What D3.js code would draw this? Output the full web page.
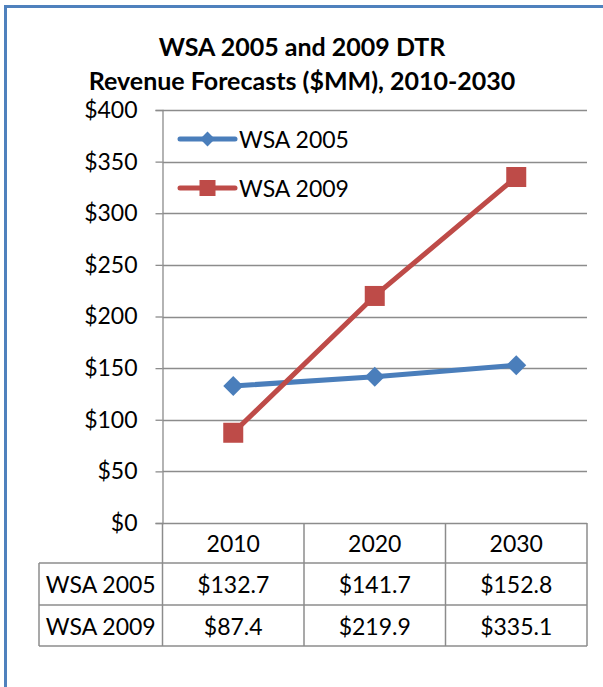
<!DOCTYPE html>
<html>
<head>
<meta charset="utf-8">
<script src="https://cdn.jsdelivr.net/npm/d3@7"></script>
<style>
  body { margin: 0; background: #fff; }
  text { font-family: Lato, "Open Sans", sans-serif; fill: #000; }
</style>
</head>
<body>
<div id="chart"></div>
<script>
const years = ["2010", "2020", "2030"];
const seriesNames = ["WSA 2005", "WSA 2009"];
const wsa2005 = [132.7, 141.7, 152.8];
const wsa2009 = [87.4, 219.9, 335.1];
const yTicks = [0, 50, 100, 150, 200, 250, 300, 350, 400];
const titleLines = ["WSA 2005 and 2009 DTR", "Revenue Forecasts ($MM), 2010-2030"];

const width = 603, height = 687;
const svg = d3.select("#chart").append("svg")
    .attr("width", width)
    .attr("height", height);

// outer frame (runs off the picture right and bottom)
svg.append("rect")
    .attr("x", 5.5).attr("y", 6.5)
    .attr("width", 700).attr("height", 800)
    .attr("fill", "#fff")
    .attr("stroke", "#4f81bd")
    .attr("stroke-width", 3);

const plotLeft = 162.5, plotRight = 587, plotTop = 110, plotBottom = 523;
const x = d3.scaleBand().domain(years).range([plotLeft, plotRight]);
const y = d3.scaleLinear().domain([0, 400]).range([plotBottom, plotTop]);
const cx = d => x(d) + x.bandwidth() / 2;

// title
svg.append("g").selectAll("text")
    .data(titleLines)
    .join("text")
    .attr("x", 302)
    .attr("y", (d, i) => 46 + i * 34)
    .attr("text-anchor", "middle")
    .attr("dominant-baseline", "central")
    .style("font-size", "25px")
    .style("font-weight", "bold")
    .text(d => d);

// grid
svg.append("g")
    .selectAll("line")
    .data(yTicks)
    .join("line")
    .attr("x1", plotLeft).attr("x2", plotRight)
    .attr("y1", d => Math.round(y(d)) + 0.5)
    .attr("y2", d => Math.round(y(d)) + 0.5)
    .attr("stroke", "#8c8c8c")
    .attr("stroke-width", 1.3);

// y axis
const yAxis = svg.append("g")
    .attr("transform", `translate(${plotLeft},0)`)
    .call(d3.axisLeft(y).tickValues(yTicks).tickFormat(d => "$" + d).tickSize(7).tickPadding(18));
yAxis.select(".domain").attr("stroke", "#8c8c8c").attr("stroke-width", 1.3);
yAxis.selectAll(".tick line").attr("stroke", "#8c8c8c").attr("stroke-width", 1.3);
yAxis.selectAll(".tick text")
    .style("font-size", "23px")
    .style("font-family", "Lato, sans-serif")
    .attr("fill", "#000");

// data table
const rowH = [40, 42, 41];
const rowTop = [plotBottom, plotBottom + 40, plotBottom + 82];
const tableBottom = plotBottom + 123;
const tableLeft = 39;
const tbl = svg.append("g")
    .attr("stroke", "#8c8c8c")
    .attr("stroke-width", 1.5)
    .attr("fill", "none");
[plotLeft, ...years.map(d => x(d) + x.bandwidth())].forEach(vx => {
    tbl.append("line").attr("x1", vx).attr("x2", vx).attr("y1", plotBottom).attr("y2", tableBottom);
});
tbl.append("line").attr("x1", tableLeft).attr("x2", tableLeft).attr("y1", rowTop[1]).attr("y2", tableBottom);
[rowTop[1], rowTop[2], tableBottom].forEach(hy => {
    tbl.append("line").attr("x1", tableLeft).attr("x2", plotRight).attr("y1", hy).attr("y2", hy);
});

svg.append("g").selectAll("text")
    .data(years)
    .join("text")
    .attr("x", cx)
    .attr("y", rowTop[0] + rowH[0] / 2)
    .attr("text-anchor", "middle")
    .attr("dominant-baseline", "central")
    .style("font-size", "23px")
    .text(d => d);

const tableRows = [wsa2005, wsa2009];
tableRows.forEach((vals, r) => {
    const ry = rowTop[r + 1] + rowH[r + 1] / 2;
    svg.append("text")
        .attr("x", (tableLeft + plotLeft) / 2)
        .attr("y", ry)
        .attr("text-anchor", "middle")
        .attr("dominant-baseline", "central")
        .style("font-size", "23px")
        .text(seriesNames[r]);
    svg.append("g").selectAll("text")
        .data(vals)
        .join("text")
        .attr("x", (d, i) => cx(years[i]))
        .attr("y", ry)
        .attr("text-anchor", "middle")
        .attr("dominant-baseline", "central")
        .style("font-size", "23px")
        .text(d => "$" + d.toFixed(1));
});

// lines
const blue = "#4a7ebb", red = "#be4b48";
const line = d3.line().x((d, i) => cx(years[i])).y(d => y(d));

svg.append("path").datum(wsa2005)
    .attr("d", line).attr("fill", "none")
    .attr("stroke", blue).attr("stroke-width", 5).attr("stroke-linejoin", "round");
svg.append("path").datum(wsa2009)
    .attr("d", line).attr("fill", "none")
    .attr("stroke", red).attr("stroke-width", 5).attr("stroke-linejoin", "round");

svg.append("g").selectAll("path")
    .data(wsa2005)
    .join("path")
    .attr("d", d3.symbol().type(d3.symbolSquare).size(200))
    .attr("transform", (d, i) => `translate(${cx(years[i])},${y(d)}) rotate(45)`)
    .attr("fill", blue);

svg.append("g").selectAll("rect")
    .data(wsa2009)
    .join("rect")
    .attr("x", (d, i) => cx(years[i]) - 10)
    .attr("y", d => y(d) - 10)
    .attr("width", 20).attr("height", 20)
    .attr("fill", red);

// legend
const legend = svg.append("g");
const legendY = [139, 188];
[blue, red].forEach((c, i) => {
    legend.append("line")
        .attr("x1", 180).attr("x2", 235)
        .attr("y1", legendY[i]).attr("y2", legendY[i])
        .attr("stroke", c).attr("stroke-width", 5).attr("stroke-linecap", "round");
    if (i === 0) {
        legend.append("path")
            .attr("d", d3.symbol().type(d3.symbolSquare).size(110))
            .attr("transform", `translate(207.5,${legendY[i]}) rotate(45)`)
            .attr("fill", c);
    } else {
        legend.append("rect")
            .attr("x", 199.5).attr("y", legendY[i] - 8)
            .attr("width", 16).attr("height", 16)
            .attr("fill", c);
    }
    legend.append("text")
        .attr("x", 239).attr("y", legendY[i])
        .attr("dominant-baseline", "central")
        .style("font-size", "23px")
        .text(seriesNames[i]);
});
</script>
</body>
</html>
